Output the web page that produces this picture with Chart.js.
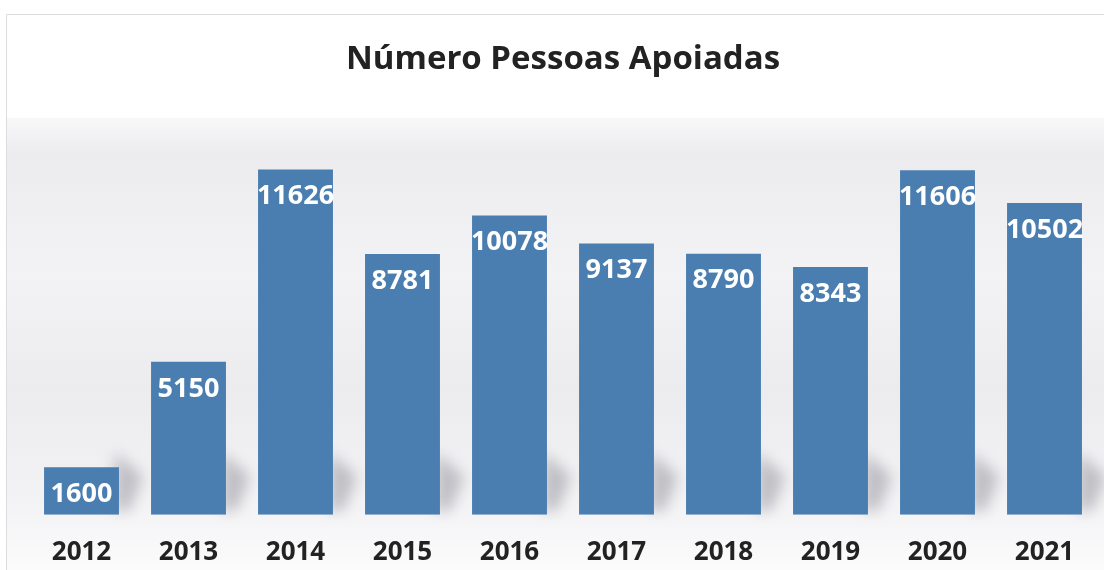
<!DOCTYPE html>
<html>
<head>
<meta charset="utf-8">
<script src="https://cdn.jsdelivr.net/npm/chart.js@4/dist/chart.umd.min.js"></script>
<style>
  html, body { margin: 0; padding: 0; background: #fff; overflow: hidden; }
  canvas { position: absolute; left: 0; top: 0; }
</style>
</head>
<body>
<canvas id="chart" width="1104" height="570"></canvas>
<script>
const YEARS = ['2012', '2013', '2014', '2015', '2016', '2017', '2018', '2019', '2020', '2021'];
const PEOPLE = [1600, 5150, 11626, 8781, 10078, 9137, 8790, 8343, 11606, 10502];
const BAR_COLOR = '#4a7db0';

const backdrop = {
    id: 'backdrop',
    beforeDraw(chart) {
        const ctx = chart.ctx;
        const w = chart.width, h = chart.height;
        ctx.save();
        ctx.fillStyle = '#ffffff';
        ctx.fillRect(0, 0, w, h);
        const g = ctx.createLinearGradient(0, 118, 0, h);
        g.addColorStop(0, '#f8f8f9');
        g.addColorStop(0.08, '#ececef');
        g.addColorStop(0.35, '#f3f3f5');
        g.addColorStop(0.6, '#ececef');
        g.addColorStop(0.85, '#f3f3f5');
        g.addColorStop(1, '#fbfbfc');
        ctx.fillStyle = g;
        ctx.fillRect(7, 118, w - 7, h - 118);
        // frame
        ctx.strokeStyle = '#dcdcdc';
        ctx.lineWidth = 1;
        ctx.beginPath();
        ctx.moveTo(6.5, h);
        ctx.lineTo(6.5, 14.5);
        ctx.lineTo(w, 14.5);
        ctx.stroke();
        ctx.restore();
    },
    beforeDatasetsDraw(chart) {
        // soft shadows behind the bars
        const ctx = chart.ctx;
        const meta = chart.getDatasetMeta(0);
        ctx.save();
        ctx.filter = 'blur(7px)';
        ctx.fillStyle = 'rgba(140,140,150,0.5)';
        meta.data.forEach(bar => {
            const p = bar.getProps(['x', 'base', 'width'], true);
            const x0 = p.x + p.width / 2 - 4;
            ctx.beginPath();
            ctx.moveTo(x0, p.base - 4);
            ctx.lineTo(x0, p.base - 62);
            ctx.lineTo(x0 + 28, p.base - 38);
            ctx.lineTo(x0 + 14, p.base - 4);
            ctx.closePath();
            ctx.fill();
        });
        ctx.restore();
    }
};

const valueLabels = {
    id: 'valueLabels',
    afterDatasetsDraw(chart) {
        const ctx = chart.ctx;
        const meta = chart.getDatasetMeta(0);
        ctx.save();
        ctx.fillStyle = '#ffffff';
        ctx.font = 'bold 27px "Open Sans", sans-serif';
        ctx.textAlign = 'center';
        ctx.textBaseline = 'middle';
        meta.data.forEach((bar, i) => {
            const p = bar.getProps(['x', 'y'], true);
            ctx.fillText(String(PEOPLE[i]), p.x, p.y + 27);
        });
        ctx.restore();
    }
};

new Chart(document.getElementById('chart'), {
    type: 'bar',
    data: {
        labels: YEARS,
        datasets: [{
            data: PEOPLE,
            backgroundColor: BAR_COLOR,
            borderWidth: 0,
            barPercentage: 0.7,
            categoryPercentage: 1.0
        }]
    },
    options: {
        responsive: false,
        animation: false,
        layout: { padding: { left: 28, right: 6, top: 0, bottom: -20 } },
        plugins: {
            legend: { display: false },
            tooltip: { enabled: false },
            title: {
                display: true,
                text: 'Número Pessoas Apoiadas',
                color: '#222',
                font: { family: '"Open Sans", sans-serif', size: 33, weight: 'bold' },
                padding: { top: 40, bottom: 45 }
            }
        },
        scales: {
            x: {
                grid: { display: false, drawTicks: false },
                border: { display: false },
                ticks: {
                    color: '#222',
                    padding: 22,
                    font: { family: '"Open Sans", sans-serif', size: 26, weight: 'bold' }
                }
            },
            y: {
                display: false,
                min: 0,
                max: 13140
            }
        }
    },
    plugins: [backdrop, valueLabels]
});
</script>
</body>
</html>
